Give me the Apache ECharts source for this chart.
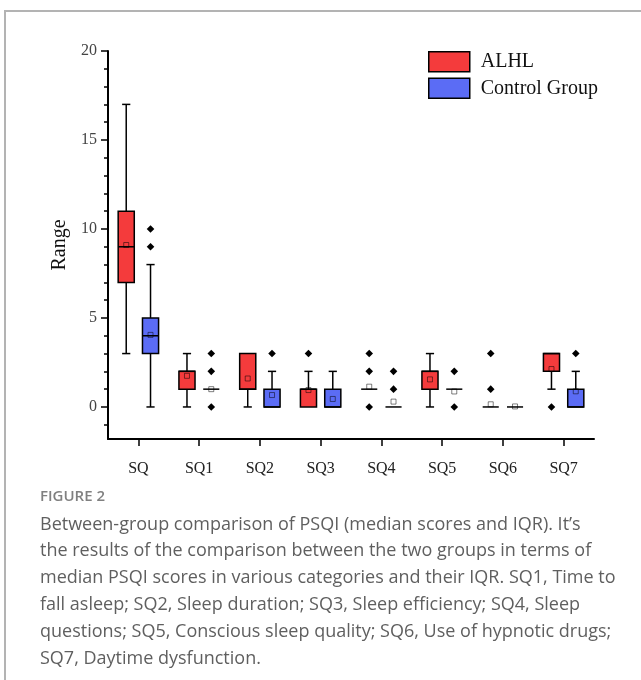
<!DOCTYPE html>
<html>
<head>
<meta charset="utf-8">
<script src="https://cdn.jsdelivr.net/npm/echarts@6/dist/echarts.min.js"></script>
<style>
html,body{margin:0;padding:0;background:#fff;}
#chart{width:641px;height:680px;}
</style>
</head>
<body>
<div id="chart"></div>
<script>
// ---- data ----
const categories = ['SQ','SQ1','SQ2','SQ3','SQ4','SQ5','SQ6','SQ7'];
const seriesNames = ['ALHL','Control Group'];
// ALHL
const alhlLow    = [3, 0, 0, 0, 1, 0, 0, 1];
const alhlQ1     = [7, 1, 1, 0, 1, 1, 0, 2];
const alhlMedian = [9, 2, 1, 1, 1, 2, 0, 3];
const alhlQ3     = [11, 2, 3, 1, 1, 2, 0, 3];
const alhlHigh   = [17, 3, 3, 2, 1, 3, 0, 3];
const alhlMean   = [9.1, 1.75, 1.6, 0.95, 1.14, 1.55, 0.15, 2.13];
const alhlOutliers = [[3,3],[4,0],[4,2],[4,3],[6,1],[6,3],[7,0]];
// Control group
const ctrlLow    = [0, 1, 0, 0, 0, 1, 0, 0];
const ctrlQ1     = [3, 1, 0, 0, 0, 1, 0, 0];
const ctrlMedian = [4, 1, 0, 0, 0, 1, 0, 0];
const ctrlQ3     = [5, 1, 1, 1, 0, 1, 0, 1];
const ctrlHigh   = [8, 1, 2, 2, 0, 1, 0, 2];
const ctrlMean   = [4.05, 1.0, 0.67, 0.45, 0.3, 0.87, 0.03, 0.88];
const ctrlOutliers = [[0,9],[0,10],[1,0],[1,2],[1,3],[2,3],[4,1],[4,2],[5,0],[5,2],[7,3]];
// axis ticks
const majorTicks = [0, 5, 10, 15, 20];
const minorTicks = [-1,1,2,3,4,6,7,8,9,11,12,13,14,16,17,18,19];
const captionTitle = 'FIGURE 2';
const captionLines = [
  'Between-group comparison of PSQI (median scores and IQR). It\u2019s',
  'the results of the comparison between the two groups in terms of',
  'median PSQI scores in various categories and their IQR. SQ1, Time to',
  'fall asleep; SQ2, Sleep duration; SQ3, Sleep efficiency; SQ4, Sleep',
  'questions; SQ5, Conscious sleep quality; SQ6, Use of hypnotic drugs;',
  'SQ7, Daytime dysfunction.'
];

// ---- styling ----
const RED = '#F43B3C';
const BLUE = '#5B6CF5';
const SERIF = "'Times New Roman','Liberation Serif',serif";

function buildBoxData(low,q1,med,q3,high,mean){
  return categories.map((c,i)=>[i, low[i], q1[i], med[i], q3[i], high[i], mean[i]]);
}

function boxRenderer(offsetFrac, fill){
  return function(params, api){
    const idx = api.value(0);
    const low = api.value(1), q1 = api.value(2), med = api.value(3),
          q3 = api.value(4), high = api.value(5), mean = api.value(6);
    const band = api.size([1,0])[0];
    const cx = api.coord([idx, 0])[0] + offsetFrac*band;
    const Y = v => api.coord([idx, v])[1];
    const bw = band*0.265, cap = band*0.135;
    const ls = {stroke:'#000', lineWidth:1.5};
    const ch = [];
    if (high > q3){
      ch.push({type:'line', shape:{x1:cx,y1:Y(q3),x2:cx,y2:Y(high)}, style:ls});
      ch.push({type:'line', shape:{x1:cx-cap/2,y1:Y(high),x2:cx+cap/2,y2:Y(high)}, style:ls});
    }
    if (low < q1){
      ch.push({type:'line', shape:{x1:cx,y1:Y(q1),x2:cx,y2:Y(low)}, style:ls});
      ch.push({type:'line', shape:{x1:cx-cap/2,y1:Y(low),x2:cx+cap/2,y2:Y(low)}, style:ls});
    }
    if (q3 > q1){
      ch.push({type:'rect', shape:{x:cx-bw/2, y:Y(q3), width:bw, height:Y(q1)-Y(q3)},
               style:{fill:fill, stroke:'#000', lineWidth:1.5}});
    }
    ch.push({type:'line', shape:{x1:cx-bw/2,y1:Y(med),x2:cx+bw/2,y2:Y(med)}, style:ls});
    const my = Y(mean);
    ch.push({type:'rect', shape:{x:cx-2.5, y:my-2.5, width:5, height:5},
             style:{fill:'none', stroke:'rgba(0,0,0,0.5)', lineWidth:1}});
    return {type:'group', children:ch};
  };
}

function outlierRenderer(offsetFrac){
  return function(params, api){
    const idx = api.value(0), v = api.value(1);
    const band = api.size([1,0])[0];
    const p = api.coord([idx, v]);
    const x = p[0] + offsetFrac*band, y = p[1];
    const r = 3.8;
    return {type:'polygon', shape:{points:[[x,y-r],[x+r,y],[x,y+r],[x-r,y]]},
            style:{fill:'#000'}};
  };
}

const chart = echarts.init(document.getElementById('chart'), null, {renderer:'canvas'});
const yCommon = {type:'value', min:-1.8, max:20};
const option = {
  animation:false,
  backgroundColor:'#fff',
  grid:{left:108, right:47, top:51, bottom:241, containLabel:false},
  legend:{
    orient:'vertical', left:428, top:51, itemWidth:41, itemHeight:20, itemGap:5,
    padding:0,
    icon:'rect',
    textStyle:{fontFamily:SERIF, fontSize:20, color:'#111', padding:[0,0,0,6]},
    data:[
      {name:seriesNames[0], itemStyle:{color:RED, borderColor:'#000', borderWidth:1.5}},
      {name:seriesNames[1], itemStyle:{color:BLUE, borderColor:'#000', borderWidth:1.5}}
    ]
  },
  xAxis:{
    type:'category', data:categories,
    axisLine:{show:true, onZero:false, lineStyle:{color:'#000', width:2}},
    axisTick:{show:true, alignWithLabel:true, length:7, lineStyle:{color:'#000', width:1.5}},
    axisLabel:{fontFamily:SERIF, fontSize:16, color:'#222', margin:22},
    splitLine:{show:false}
  },
  yAxis:[
    Object.assign({}, yCommon, {
      name:'Range', nameLocation:'middle', nameGap:32, nameRotate:90,
      nameTextStyle:{fontFamily:SERIF, fontSize:20, color:'#111'},
      axisLine:{show:true, lineStyle:{color:'#000', width:2}},
      axisTick:{show:true, length:7, customValues:majorTicks, lineStyle:{color:'#000', width:1.5}},
      axisLabel:{customValues:majorTicks, fontFamily:SERIF, fontSize:16, color:'#444', margin:11},
      splitLine:{show:false}
    }),
    Object.assign({}, yCommon, {
      position:'left', offset:0,
      axisLine:{show:false},
      axisTick:{show:true, length:4, customValues:minorTicks, lineStyle:{color:'#000', width:1.5}},
      axisLabel:{show:false},
      splitLine:{show:false}
    })
  ],
  graphic:[
    {type:'polyline', silent:true, shape:{points:[[5,680],[5,11],[641,11]]},
     style:{stroke:'#b3b3b3', lineWidth:2, fill:'none'}},
    {type:'text', left:40, top:489,
     style:{text:captionTitle, fontFamily:"'Open Sans','Noto Sans',sans-serif", fontSize:15, fontWeight:600, fill:'#808080'}},
    {type:'text', left:40, top:511,
     style:{text:captionLines.join('\n'), fontFamily:"'Open Sans','Noto Sans',sans-serif", fontSize:18, lineHeight:26.8, fill:'#5f5f5f'}}
  ],
  series:[
    {name:seriesNames[0], type:'custom', itemStyle:{color:RED}, renderItem:boxRenderer(-0.2, RED),
     encode:{x:0, y:[1,5]}, data:buildBoxData(alhlLow,alhlQ1,alhlMedian,alhlQ3,alhlHigh,alhlMean), z:2},
    {name:seriesNames[1], type:'custom', itemStyle:{color:BLUE}, renderItem:boxRenderer(0.2, BLUE),
     encode:{x:0, y:[1,5]}, data:buildBoxData(ctrlLow,ctrlQ1,ctrlMedian,ctrlQ3,ctrlHigh,ctrlMean), z:2},
    {name:seriesNames[0], type:'custom', itemStyle:{color:RED}, renderItem:outlierRenderer(-0.2),
     encode:{x:0, y:1}, data:alhlOutliers, z:3},
    {name:seriesNames[1], type:'custom', itemStyle:{color:BLUE}, renderItem:outlierRenderer(0.2),
     encode:{x:0, y:1}, data:ctrlOutliers, z:3}
  ]
};
chart.setOption(option);
</script>
</body>
</html>
